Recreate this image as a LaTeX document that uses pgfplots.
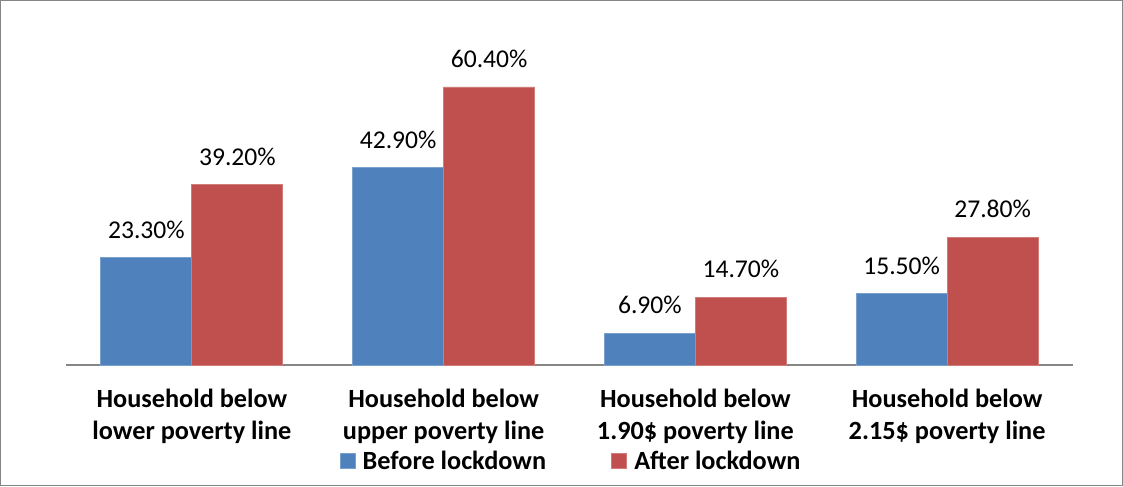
\documentclass[border=0pt]{standalone}
\usepackage{pgfplots}
\pgfplotsset{compat=1.18}
\usepackage{fontspec}
\setmainfont{Carlito}
\definecolor{cblue}{HTML}{4F81BD}
\definecolor{cred}{HTML}{C0504D}
\definecolor{cgray}{HTML}{868686}
\begin{document}
\begin{tikzpicture}
\useasboundingbox (0,0) rectangle (842.25pt,364.5pt);
\draw[cgray,line width=1.1pt] (0.55pt,0.55pt) rectangle (841.7pt,363.95pt);
\begin{axis}[
  at={(49.5pt,90.75pt)}, anchor=south west,
  scale only axis, width=755.25pt, height=241.7pt,
  ybar=0pt, bar width=68.25pt,
  xmin=-0.5, xmax=3.5, ymin=0, ymax=70,
  axis x line*=bottom, axis y line=none,
  x axis line style={cgray, line width=1.4pt},
  major tick length=0pt,
  xtick=data,
  xticklabels={{Household below\\lower poverty line},{Household below\\upper poverty line},{Household below\\1.90\$ poverty line},{Household below\\2.15\$ poverty line}},
  xticklabel style={align=center, anchor=north, inner sep=0pt, yshift=-18pt, font=\bfseries\fontsize{19.7}{24}\selectfont},
  ytick=\empty,
  /pgf/number format/assume math mode=true,
  nodes near coords={\pgfmathprintnumber[fixed,fixed zerofill,precision=2,assume math mode=true]{\pgfplotspointmeta}\%},
  every node near coord/.append style={font=\fontsize{19.2}{22}\selectfont, anchor=center, yshift=21pt, inner sep=0pt},
  clip=false,
  legend style={at={(0.502,0)}, anchor=center, yshift=-72pt, draw=none, fill=none, inner sep=0pt, font=\bfseries\fontsize{19.7}{22}\selectfont, legend columns=2, /tikz/every even column/.append style={column sep=47pt}, legend cell align=left},
  legend image code/.code={\fill[#1] (0pt,-5.6pt) rectangle (11.25pt,5.6pt); \path (14.5pt,0pt);},
]
\addplot[fill=cblue, draw=cblue!75!white, line width=0.6pt] coordinates {(0,23.3) (1,42.9) (2,6.9) (3,15.5)};
\addplot[fill=cred, draw=cred!75!white, line width=0.6pt] coordinates {(0,39.2) (1,60.4) (2,14.7) (3,27.8)};
\legend{Before lockdown, After lockdown}
\end{axis}
\end{tikzpicture}
\end{document}
